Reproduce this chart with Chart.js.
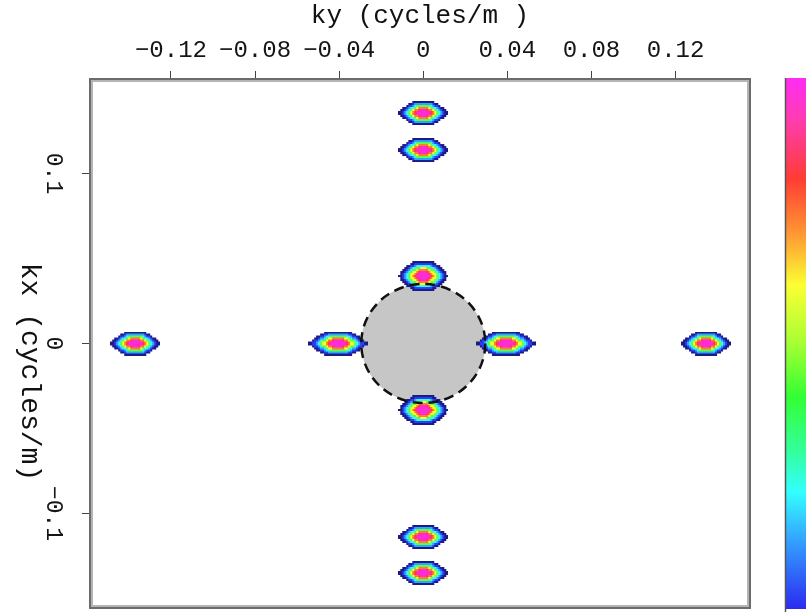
<!DOCTYPE html>
<html>
<head>
<meta charset="utf-8">
<script src="https://cdn.jsdelivr.net/npm/chart.js@4"></script>
<style>
  html, body { margin: 0; padding: 0; background: #fff; }
  #wrap { width: 806px; height: 612px; position: relative; }
</style>
</head>
<body>
<div id="wrap"><canvas id="c" width="806" height="612"></canvas></div>
<script>
// Spectral peaks in the wavenumber plane (cycles/m)
const peakKy = [0, 0, 0, 0, 0, 0, -0.137, -0.0405, 0.0393, 0.1345];
const peakKx = [0.1356, 0.1138, 0.0397, -0.0391, -0.1138, -0.135, 0, 0, 0, 0];

// Axis ticks and extents
const kyTicks = [-0.12, -0.08, -0.04, 0, 0.04, 0.08, 0.12];
const kxTicks = [-0.1, 0, 0.1];
const kyRange = [-0.1585, 0.1554];
const kxRange = [-0.1556, 0.1556];

// Low-wavenumber region around the origin (radius along ky, kx)
const passCenter = [0, 0];
const passRadius = [0.0295, 0.035];

// ---- styling ----
const MONO = '"Liberation Mono", "DejaVu Sans Mono", monospace';
const bandStops = [0.28, 0.36, 0.45, 0.54, 0.62, 0.71, 0.79, 0.88, 1.0];
const bandColors = ['#ff2bd8', '#ff3366', '#ff7a2c', '#f4ff2e', '#5cff48',
                    '#3cf8ee', '#2aa6ff', '#2c3cf4', '#1b1b86'];

// Contour-filled peak glyph: hexagonal outer rim easing into elliptic core
function spotSprite(w, h) {
  const c = document.createElement('canvas');
  c.width = w; c.height = h;
  const g = c.getContext('2d');
  const cell = 2, a = w / 2, b = h / 2;
  for (let py = 0; py < h; py += cell) {
    for (let px = 0; px < w; px += cell) {
      const u = Math.abs(px + cell / 2 - a) / a;
      const v = Math.abs(py + cell / 2 - b) / b;
      const r = 0.6 * Math.max(v, u + 0.6 * v) + 0.4 * Math.sqrt(u * u + v * v);
      const k = bandStops.findIndex(s => r < s);
      if (k < 0) continue;
      g.fillStyle = bandColors[k];
      g.fillRect(px, py, cell, cell);
    }
  }
  return c;
}
const spriteOuter = spotSprite(50, 24);
const spriteWide = spotSprite(60, 24);
const spriteTall = spotSprite(50, 30);

function spriteFor(ctx) {
  const p = ctx.raw;
  if (!p) return spriteOuter;
  if (p.y === 0 && Math.abs(p.x) < 0.08) return spriteWide;
  if (p.x === 0 && Math.abs(p.y) < 0.08) return spriteTall;
  return spriteOuter;
}

function fmt(v) {
  return (v < 0 ? '\u2212' : '') + String(Math.abs(v));
}

// Axes sit flush with the frame: no extra room reserved for edge labels
const noPadding = () => ({ left: 0, top: 0, right: 0, bottom: 0 });

// Grey disc (behind the peaks) and its dashed rim (on top)
function drawPass(chart, fillIt) {
  const { ctx, scales: { x, y } } = chart;
  const cx = x.getPixelForValue(passCenter[0]);
  const cy = y.getPixelForValue(passCenter[1]);
  const rx = Math.abs(x.getPixelForValue(passCenter[0] + passRadius[0]) - cx);
  const ry = Math.abs(y.getPixelForValue(passCenter[1] + passRadius[1]) - cy);
  ctx.save();
  ctx.beginPath();
  ctx.ellipse(cx, cy, rx, ry, 0, 0, Math.PI * 2);
  if (fillIt) {
    ctx.fillStyle = '#c6c6c6';
    ctx.fill();
  } else {
    ctx.setLineDash([10, 6]);
    ctx.lineWidth = 2.5;
    ctx.strokeStyle = '#111';
    ctx.stroke();
  }
  ctx.restore();
}
const passPlugin = {
  id: 'passRegion',
  beforeDatasetsDraw(chart) { drawPass(chart, true); },
  afterDatasetsDraw(chart) { drawPass(chart, false); }
};

// Double-line plot frame
const framePlugin = {
  id: 'frame',
  afterDraw(chart) {
    const { ctx, chartArea: a } = chart;
    const w = a.right - a.left, h = a.bottom - a.top;
    ctx.save();
    ctx.lineWidth = 2;
    ctx.strokeStyle = '#6c6c6c';
    ctx.strokeRect(a.left, a.top, w, h);
    ctx.strokeStyle = '#b4b4b4';
    ctx.strokeRect(a.left + 2, a.top + 2, w - 4, h - 4);
    ctx.restore();
  }
};

// Vertical colour scale at the right edge
const colorBarPlugin = {
  id: 'colorBar',
  afterDraw(chart) {
    const { ctx, chartArea: a } = chart;
    const x0 = a.right + 36, top = a.top - 1, bot = a.bottom + 1;
    const g = ctx.createLinearGradient(0, top, 0, bot);
    g.addColorStop(0.00, '#ff2cf4');
    g.addColorStop(0.08, '#ff3cae');
    g.addColorStop(0.19, '#ff3c34');
    g.addColorStop(0.29, '#ff9433');
    g.addColorStop(0.39, '#fbff33');
    g.addColorStop(0.50, '#a6ff33');
    g.addColorStop(0.60, '#33ff33');
    g.addColorStop(0.70, '#33ff99');
    g.addColorStop(0.78, '#33ffff');
    g.addColorStop(0.88, '#3399ff');
    g.addColorStop(1.00, '#2a2af0');
    ctx.save();
    ctx.fillStyle = g;
    ctx.fillRect(x0, top, chart.width - x0, bot - top);
    ctx.strokeStyle = '#555';
    ctx.lineWidth = 1.5;
    ctx.beginPath();
    ctx.moveTo(x0 - 0.5, top);
    ctx.lineTo(x0 - 0.5, bot + 3);
    ctx.stroke();
    ctx.restore();
  }
};

// Left axis title, reading top to bottom
const kxTitlePlugin = {
  id: 'kxTitle',
  afterDraw(chart) {
    const { ctx } = chart;
    ctx.save();
    ctx.translate(29, 372);
    ctx.rotate(Math.PI / 2);
    ctx.font = '28px ' + MONO;
    ctx.fillStyle = '#111';
    ctx.textAlign = 'center';
    ctx.textBaseline = 'middle';
    ctx.fillText('kx (cycles/m)', 0, 0);
    ctx.restore();
  }
};

new Chart(document.getElementById('c'), {
  type: 'scatter',
  data: {
    datasets: [{
      data: peakKy.map((ky, i) => ({ x: ky, y: peakKx[i] })),
      pointStyle: spriteFor,
      pointRadius: 2,
      pointHoverRadius: 2,
      pointBorderWidth: 0,
      backgroundColor: 'transparent',
      borderColor: 'transparent',
      showLine: false
    }]
  },
  options: {
    responsive: false,
    animation: false,
    events: [],
    layout: { autoPadding: false, padding: { left: 0, top: 0, right: 56, bottom: 4 } },
    plugins: { legend: { display: false }, tooltip: { enabled: false } },
    scales: {
      x: {
        type: 'linear',
        position: 'top',
        min: kyRange[0],
        max: kyRange[1],
        afterBuildTicks: s => { s.ticks = kyTicks.map(v => ({ value: v })); },
        afterFit: s => { s.height = 79; s.getPadding = noPadding; },
        border: { display: false },
        grid: { drawOnChartArea: false, drawTicks: true, tickLength: 8, color: '#444', lineWidth: 1 },
        ticks: { font: { family: MONO, size: 24 }, color: '#151515', padding: 6, callback: fmt, maxRotation: 0, autoSkip: false },
        title: { display: true, text: 'ky (cycles/m )', font: { family: MONO, size: 26 }, color: '#111', padding: { top: 1, bottom: 0 } }
      },
      y: {
        type: 'linear',
        position: 'left',
        min: kxRange[0],
        max: kxRange[1],
        afterBuildTicks: s => { s.ticks = kxTicks.map(v => ({ value: v })); },
        afterFit: s => { s.width = 90; s.getPadding = noPadding; },
        border: { display: false },
        grid: { drawOnChartArea: false, drawTicks: true, tickLength: 8, color: '#444', lineWidth: 1 },
        ticks: { font: { family: MONO, size: 23 }, color: '#151515', padding: 1, callback: fmt,
                 minRotation: -90, maxRotation: -90, crossAlign: 'center', autoSkip: false },
        title: { display: false }
      }
    }
  },
  plugins: [passPlugin, framePlugin, colorBarPlugin, kxTitlePlugin]
});
</script>
</body>
</html>
